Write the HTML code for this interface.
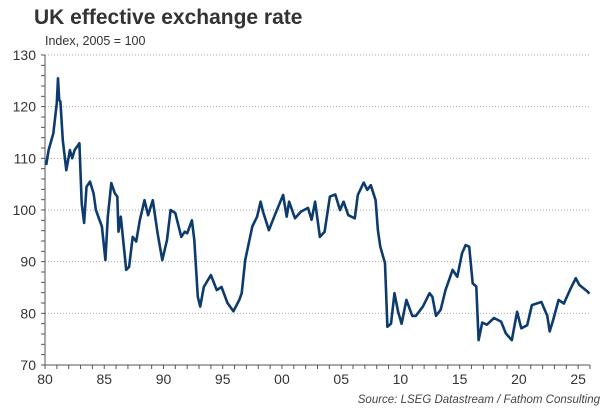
<!DOCTYPE html>
<html><head><meta charset="utf-8"><style>
body{margin:0;background:#fff;font-family:"Liberation Sans",Arial,sans-serif}
#c{position:absolute;left:0;top:0}
</style></head><body>
<svg id="c" width="615" height="410">
<text x="34" y="24" font-size="21" font-weight="bold" fill="#333">UK effective exchange rate</text>
<text x="45" y="45" font-size="12.5" fill="#333">Index, 2005 = 100</text>
<text x="600" y="403" font-size="11.5" font-style="italic" fill="#444" text-anchor="end">Source: LSEG Datastream / Fathom Consulting</text>
<g id="grid"></g><g id="axes"></g><g id="series"></g>
</svg>
<script>
const yTicks=[70,80,90,100,110,120,130];
const xTickYears=[1980,1985,1990,1995,2000,2005,2010,2015,2020,2025];
const xTickLabels=["80","85","90","95","00","05","10","15","20","25"];
const years=[1980.1,1980.3,1980.7,1981.0,1981.1,1981.2,1981.3,1981.5,1981.8,1982.1,1982.3,1982.5,1982.9,1983.1,1983.3,1983.5,1983.8,1984.1,1984.3,1984.8,1985.1,1985.3,1985.6,1985.9,1986.1,1986.2,1986.4,1986.85,1987.1,1987.4,1987.7,1988.0,1988.4,1988.7,1989.1,1989.5,1989.9,1990.3,1990.6,1991.0,1991.5,1991.8,1992.0,1992.4,1992.6,1992.9,1993.1,1993.4,1994.0,1994.5,1994.9,1995.4,1995.9,1996.4,1996.6,1996.9,1997.2,1997.5,1997.9,1998.2,1998.4,1998.9,1999.4,2000.1,2000.4,2000.6,2001.1,2001.6,2002.2,2002.5,2002.8,2003.2,2003.6,2004.05,2004.5,2004.9,2005.2,2005.6,2006.15,2006.4,2006.9,2007.2,2007.5,2007.9,2008.1,2008.3,2008.7,2008.9,2009.2,2009.5,2009.8,2010.1,2010.5,2011.0,2011.3,2011.9,2012.45,2012.7,2013.0,2013.4,2013.8,2014.4,2014.8,2015.2,2015.5,2015.8,2016.1,2016.4,2016.6,2016.9,2017.3,2017.9,2018.5,2018.9,2019.4,2019.85,2020.2,2020.7,2021.1,2021.5,2021.9,2022.4,2022.6,2022.9,2023.35,2023.8,2024.3,2024.8,2025.1,2025.8,2025.95];
const values=[108.7,111.6,114.8,120.7,125.5,121.3,121,113.5,107.7,111.6,110,111.6,112.9,101.3,97.5,104.5,105.5,103.2,100,96.8,90.3,98.7,105.2,103.2,102.6,95.8,98.7,88.4,89,94.8,93.9,98,101.9,99,101.9,95.5,90.3,94.2,100,99.4,94.8,95.8,95.5,98,94.2,83.2,81.3,85.1,87.4,84.5,85.1,82,80.4,82.6,83.9,90.3,93.6,96.8,98.7,101.6,99.7,96.1,99,102.9,98.7,101.6,98.4,99.7,100.4,98.1,101.6,94.8,95.8,102.6,103,100,101.6,99,98.4,102.9,105.3,103.9,104.8,101.9,96.1,92.9,89.7,77.4,78,83.9,80.3,78,82.6,79.5,79.5,81.3,83.9,83.2,79.5,80.7,84.5,88.4,87.1,91.6,93.2,92.9,85.8,85.2,74.8,78.2,77.8,79.1,78.4,76.1,74.8,80.3,77.1,77.7,81.6,81.9,82.2,79.5,76.5,78.8,82.6,81.9,84.5,86.8,85.5,84.2,83.8];
const X0=45,X1=590,Y0=365,Y1=55;
const xs=y=>X0+(y-1980)*(X1-X0)/46;
const ys=v=>Y0-(v-70)*(Y0-Y1)/60;
const NS="http://www.w3.org/2000/svg";
function mk(t,a,p){const e=document.createElementNS(NS,t);for(const k in a)e.setAttribute(k,a[k]);p.appendChild(e);return e;}
const grid=document.getElementById('grid'),axes=document.getElementById('axes'),ser=document.getElementById('series');
yTicks.forEach(v=>{
  if(v>70){const g=mk('line',{x1:X0,x2:X1,y1:ys(v),y2:ys(v),stroke:'#aaa','stroke-dasharray':'1,2'},grid);
  
  }
  const t=mk('text',{x:36,y:ys(v)+5,'font-size':14,fill:'#333','text-anchor':'end'},axes);t.textContent=v;
  
  
});
for(let v=70;v<=130;v+=2){mk('line',{x1:X0-4,x2:X0,y1:ys(v),y2:ys(v),stroke:'#555'},axes);}
for(let y=1980;y<=2026;y++){mk('line',{x1:xs(y),x2:xs(y),y1:Y0,y2:Y0+4,stroke:'#555'},axes);}
const ya=mk('line',{x1:X0,x2:X0,y1:Y1,y2:Y0,stroke:'#555'},axes);


const xa=mk('line',{x1:X0,x2:X1,y1:Y0,y2:Y0,stroke:'#555'},axes);


xTickYears.forEach((y,i)=>{const t=mk('text',{x:xs(y),y:Y0+19,'font-size':14,fill:'#333','text-anchor':'middle'},axes);t.textContent=xTickLabels[i];
  
  });
const d=years.map((y,i)=>(i?'L':'M')+xs(y).toFixed(1)+','+ys(values[i]).toFixed(1)).join('');
const p=mk('path',{d:d,fill:'none',stroke:'#0d3b6e','stroke-width':2.6,'stroke-linejoin':'round'},ser);


</script>
</body></html>
